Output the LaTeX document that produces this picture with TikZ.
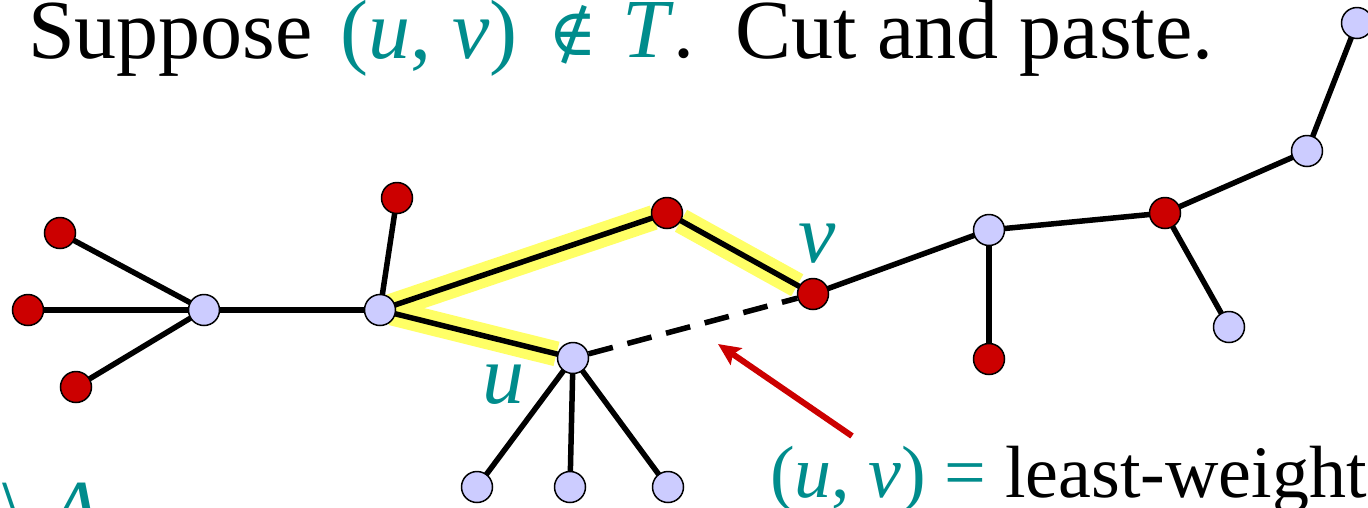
\documentclass[tikz,border=0pt]{standalone}
\usepackage{fontspec}
\setmainfont{Liberation Serif}
\newfontfamily\symf{DejaVu Serif}
\usetikzlibrary{arrows.meta}
\definecolor{nred}{RGB}{204,0,0}
\definecolor{nlav}{RGB}{204,204,255}
\definecolor{tl}{RGB}{0,140,140}
\definecolor{hl}{RGB}{255,255,102}
\definecolor{arr}{RGB}{204,0,0}
\pgfdeclarelayer{hlayer}
\pgfdeclarelayer{elayer}
\pgfsetlayers{hlayer,elayer,main}
\begin{document}
\begin{tikzpicture}[x=1pt,y=-1pt,
  vtx/.style={circle,draw=black,line width=1.5pt,minimum size=31pt,inner sep=0pt},
  rv/.style={vtx,fill=nred},
  lv/.style={vtx,fill=nlav},
  edge/.style={line width=5.5pt,black},
  hil/.style={line width=25pt,hl},
  txt/.style={font=\fontsize{84}{100}\selectfont,inner sep=0pt,anchor=base west},
  stxt/.style={font=\fontsize{74}{90}\selectfont,inner sep=0pt,anchor=base west}]
\useasboundingbox (0,0) rectangle (1368,507);
\clip (0,0) rectangle (1368,507);
% vertices
\node[rv] (L1) at (60,233) {};
\node[rv] (L2) at (28,310) {};
\node[rv] (L3) at (76,387) {};
\node[lv] (H1) at (204,310) {};
\node[lv] (H2) at (380,310) {};
\node[rv] (R1) at (397,198) {};
\node[rv] (R2) at (667,213) {};
\node[rv] (V) at (813,294) {};
\node[lv] (U) at (573,358) {};
\node[lv] (C1) at (477,487) {};
\node[lv] (C2) at (570,487) {};
\node[lv] (C3) at (668,487) {};
\node[lv] (P1) at (989,230) {};
\node[rv] (P2) at (989,359) {};
\node[rv] (R3) at (1165,213) {};
\node[lv] (P3) at (1229,327) {};
\node[lv] (P4) at (1307,151) {};
\node[lv] (P5) at (1357,23) {};
% highlights
\begin{pgfonlayer}{hlayer}
\draw[hil,shorten <=10pt,shorten >=14pt] (H2.center) -- (R2.center);
\draw[hil,shorten <=16pt,shorten >=18pt] (R2.center) -- (V.center);
\draw[hil,shorten <=12pt,shorten >=17pt] (H2.center) -- (U.center);
\end{pgfonlayer}
% edges
\begin{pgfonlayer}{elayer}
\draw[edge] (L1.center) -- (H1.center);
\draw[edge] (L2.center) -- (H1.center);
\draw[edge] (L3.center) -- (H1.center);
\draw[edge] (H1.center) -- (H2.center);
\draw[edge] (H2.center) -- (R1.center);
\draw[edge] (H2.center) -- (R2.center);
\draw[edge] (R2.center) -- (V.center);
\draw[edge] (H2.center) -- (U.center);
\draw[edge,dash pattern=on 25pt off 15pt] (U) -- (V);
\draw[edge] (U.center) -- (C1.center);
\draw[edge] (U.center) -- (C2.center);
\draw[edge] (U.center) -- (C3.center);
\draw[edge] (V.center) -- (P1.center);
\draw[edge] (P1.center) -- (P2.center);
\draw[edge] (P1.center) -- (R3.center);
\draw[edge] (R3.center) -- (P3.center);
\draw[edge] (R3.center) -- (P4.center);
\draw[edge] (P4.center) -- (P5.center);
\end{pgfonlayer}
% texts
\node[txt] (t1a) at (28,58) {Suppose};
\node[txt,text=tl] (t1b) at (340,58) {(\textit{u}, \textit{v})};
\node[txt,text=tl,font=\fontsize{66}{70}\symf] (t1c) at (548,55) {∉};
\node[txt] (t1d) at (622,57) {{\color{tl}\textit{T}}.};
\node[txt] (t2) at (735,58) {Cut and paste.};
\node[txt,text=tl] (lu) at (482,403) {\textit{u}};
\node[txt,text=tl] (lv) at (798,262) {\textit{v}};
\node[stxt] (t3) at (770,497) {{\color{tl}(\textit{u}, \textit{v}) =} least-weight};
\node[txt,text=tl] (t4) at (2,538) {\textbackslash\hspace{24pt}\textit{A}};
\coordinate (as) at (852,436);
\coordinate (ae) at (718,344);
\draw[arr,line width=6pt,-{Stealth[length=22pt,width=20pt,inset=4pt]}] (as) -- (ae);
\end{tikzpicture}
\end{document}
